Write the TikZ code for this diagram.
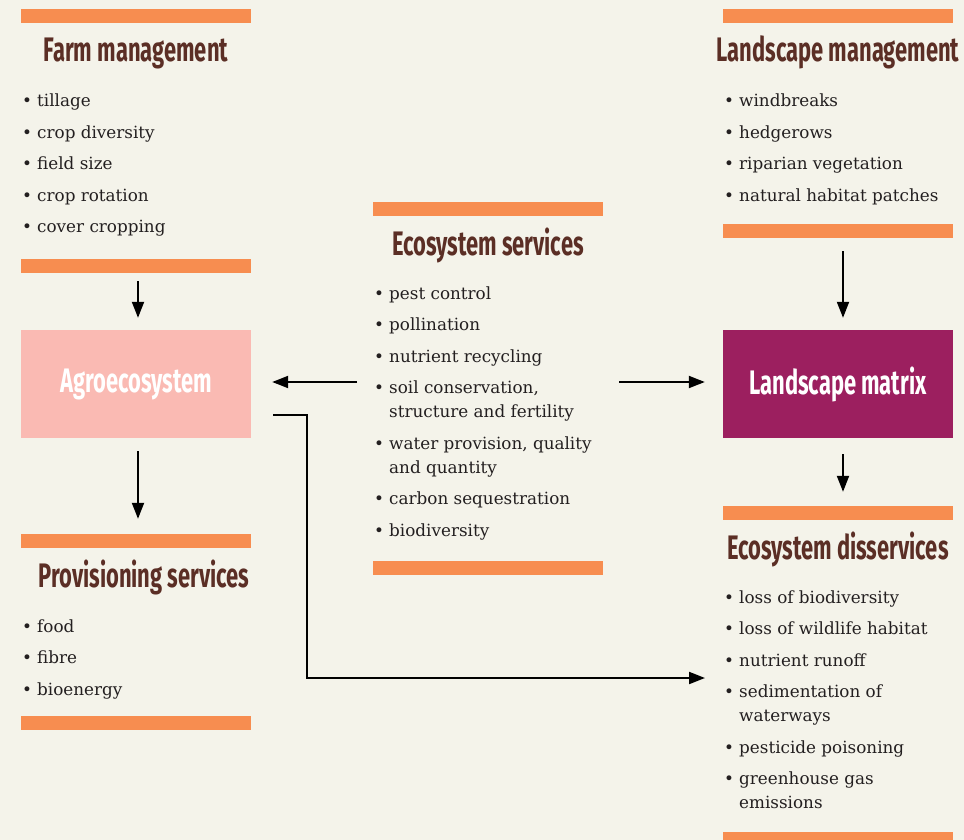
\documentclass[tikz,border=0pt]{standalone}
\usepackage{fontspec}
\setmainfont{DejaVu Serif}
\newfontfamily\headfont[FakeStretch=0.645]{Fira Sans}
\usetikzlibrary{arrows.meta}
\definecolor{bg}{HTML}{F4F3EA}
\definecolor{barorange}{HTML}{F78D50}
\definecolor{pinkbox}{HTML}{FABAB3}
\definecolor{magbox}{HTML}{9C1F5F}
\definecolor{headbrown}{HTML}{5B2E25}
\definecolor{txt}{HTML}{231F20}
\newcommand\bl{\makebox[12pt][l]{\hspace*{-3pt}•}}
\newcommand\ind{\hspace*{12pt}}
\tikzset{
  bar/.style={fill=barorange, draw=none, minimum width=230pt, minimum height=14pt, inner sep=0pt},
  head/.style={text=headbrown, font=\headfont\bfseries\fontsize{34}{34}\selectfont, inner sep=0pt, anchor=base},
  blist/.style={text=txt, font=\fontsize{16.8}{24}\selectfont, inner sep=0pt, anchor=base west},
  box/.style={minimum width=230pt, minimum height=108pt, inner sep=0pt, draw=none, text=white, font=\headfont\bfseries\fontsize{34}{34}\selectfont},
  arr/.style={-{Triangle[length=16pt,width=12pt]}, line width=2pt, draw=black}
}
\begin{document}
\begin{tikzpicture}[x=1pt,y=-1pt]
\fill[bg] (0,0) rectangle (964,840);
\useasboundingbox (0,0) rectangle (964,840);
% left column
\node[bar] (fmtop) at (136,16) {};
\node[head] (fmhead) at (136,62) {Farm management};
\node[blist] (fmlist) at (25,107) {\begin{tabular}[t]{@{}l@{}}
\bl tillage\\[7.5pt]
\bl crop diversity\\[7.5pt]
\bl field size\\[7.5pt]
\bl crop rotation\\[7.5pt]
\bl cover cropping
\end{tabular}};
\node[bar] (fmbot) at (136,266) {};
\node[box, fill=pinkbox] (agro) at (136,384) {Agroecosystem};
\node[bar] (pstop) at (136,541) {};
\node[head] (pshead) at (144,587) {Provisioning services};
\node[blist] (pslist) at (25,632) {\begin{tabular}[t]{@{}l@{}}
\bl food\\[7.5pt]
\bl fibre\\[7.5pt]
\bl bioenergy
\end{tabular}};
\node[bar] (psbot) at (136,723) {};
% centre column
\node[bar] (estop) at (488,209) {};
\node[head] (eshead) at (488,255) {Ecosystem services};
\node[blist] (eslist) at (377,299) {\begin{tabular}[t]{@{}l@{}}
\bl pest control\\[7.5pt]
\bl pollination\\[7.5pt]
\bl nutrient recycling\\[7.5pt]
\bl soil conservation,\\
\ind structure and fertility\\[7.5pt]
\bl water provision, quality\\
\ind and quantity\\[7.5pt]
\bl carbon sequestration\\[7.5pt]
\bl biodiversity
\end{tabular}};
\node[bar] (esbot) at (488,568) {};
\coordinate (esl) at (357,382);
\coordinate (esr) at (619,382);
% right column
\node[bar] (lmtop) at (838,16) {};
\node[head] (lmhead) at (838,62) {Landscape management};
\node[blist] (lmlist) at (727,107) {\begin{tabular}[t]{@{}l@{}}
\bl windbreaks\\[7.5pt]
\bl hedgerows\\[7.5pt]
\bl riparian vegetation\\[7.5pt]
\bl natural habitat patches
\end{tabular}};
\node[bar] (lmbot) at (838,231) {};
\node[box, fill=magbox] (lmat) at (838,384) {Landscape matrix};
\node[bar] (dstop) at (838,513) {};
\node[head] (dshead) at (838,559) {Ecosystem disservices};
\node[blist] (dslist) at (727,603) {\begin{tabular}[t]{@{}l@{}}
\bl loss of biodiversity\\[7.5pt]
\bl loss of wildlife habitat\\[7.5pt]
\bl nutrient runoff\\[7.5pt]
\bl sedimentation of\\
\ind waterways\\[7.5pt]
\bl pesticide poisoning\\[7.5pt]
\bl greenhouse gas\\
\ind emissions
\end{tabular}};
\node[bar] (dsbot) at (838,839) {};
\coordinate (elb) at (307,678);
\coordinate (dsin) at (705,678);
% connectors
\draw[arr, shorten <=8pt, shorten >=12pt] ([xshift=2pt]fmbot.south) -- ([xshift=2pt]agro.north);
\draw[arr, shorten <=13pt, shorten >=15pt] ([xshift=2pt]agro.south) -- ([xshift=2pt]pstop.north);
\draw[arr, shorten >=21pt] (esl) -- (agro.east |- esl);
\draw[arr, shorten >=18pt] (esr) -- (lmat.west |- esr);
\draw[arr, shorten <=13pt, shorten >=12pt] ([xshift=5pt]lmbot.south) -- ([xshift=5pt]lmat.north);
\draw[arr, shorten <=16pt, shorten >=14pt] ([xshift=5pt]lmat.south) -- ([xshift=5pt]dstop.north);
\draw[arr] ([xshift=22pt,yshift=-31pt]agro.east) -| (elb) -- (dsin);
\end{tikzpicture}
\end{document}
